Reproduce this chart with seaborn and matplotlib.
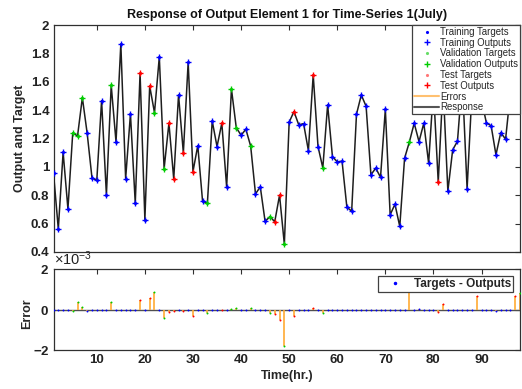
import numpy as np
import pandas as pd
import matplotlib
matplotlib.use("Agg")
import matplotlib.pyplot as plt
from matplotlib.lines import Line2D
from matplotlib.ticker import ScalarFormatter
import seaborn as sns

# ---- data -----------------------------------------------------------------
time_hr = list(range(1, 99))

outputs = [
    0.956, 0.563, 1.103, 0.704, 1.239, 1.218, 1.488, 1.237, 0.923, 0.904,
    1.467, 0.803, 1.575, 1.176, 1.866, 0.918, 1.373, 0.744, 1.660, 0.629,
    1.570, 1.382, 1.775, 0.988, 1.308, 0.915, 1.507, 1.099, 1.737, 0.967,
    1.150, 0.756, 0.744, 1.324, 1.143, 1.308, 0.859, 1.549, 1.277, 1.223,
    1.265, 1.146, 0.810, 0.859, 0.615, 0.650, 0.613, 0.800, 0.455, 1.315,
    1.390, 1.296, 1.305, 1.115, 1.648, 1.143, 0.993, 1.437, 1.073, 1.035,
    1.040, 0.716, 0.688, 1.371, 1.507, 1.427, 0.944, 0.991, 0.927, 1.406,
    0.662, 0.737, 0.580, 1.061, 1.176, 1.308, 1.178, 1.308, 1.026, 1.550,
    0.892, 1.580, 0.829, 1.120, 1.181, 1.620, 0.845, 1.520, 1.680, 1.470,
    1.312, 1.289, 1.085, 1.242, 1.195, 1.520, 1.660, 1.585,
]

# targets - outputs, in units of 1e-3
errors_e3 = [
    0.00, 0.00, 0.00, 0.00, -0.07, 0.38, 0.13, -0.05, 0.00, 0.00,
    0.00, 0.00, 0.40, 0.00, 0.00, 0.00, 0.00, 0.00, 0.48, 0.00,
    0.60, 0.89, 0.00, -0.40, -0.10, -0.07, 0.00, -0.08, 0.00, -0.30,
    0.00, 0.00, -0.15, 0.00, 0.00, -0.02, 0.00, 0.05, 0.08, 0.00,
    0.00, 0.08, 0.00, 0.00, 0.00, -0.17, -0.23, -0.50, -1.80, 0.00,
    -0.30, 0.00, 0.00, 0.00, 0.08, 0.00, -0.15, 0.00, 0.00, 0.00,
    0.00, 0.00, 0.00, 0.00, 0.00, 0.00, 0.00, 0.00, 0.00, 0.00,
    0.00, 0.00, 0.00, 0.00, 0.95, 0.00, 0.05, 0.00, 0.00, 0.00,
    -0.13, 0.26, 0.00, 0.00, 0.00, 0.00, 0.00, 0.00, 0.67, 0.00,
    0.00, 0.00, -0.05, 0.00, 0.00, 0.00, 0.70, 0.82,
]

validation_steps = [5, 6, 7, 13, 22, 24, 33, 38, 39, 42, 46, 49, 57, 75, 98]
test_steps = [19, 21, 25, 26, 28, 30, 36, 47, 48, 51, 55, 81, 82, 89, 97]

top_yticks = [0.4, 0.6, 0.8, 1.0, 1.2, 1.4, 1.6, 1.8, 2.0]
top_yticklabels = ["0.4", "0.6", "0.8", "1", "1.2", "1.4", "1.6", "1.8", "2"]
x_ticks = [10, 20, 30, 40, 50, 60, 70, 80, 90]
err_yticks = [-2e-3, 0.0, 2e-3]

title_text = "Response of Output Element 1 for Time-Series 1(July)"

# ---- frame ----------------------------------------------------------------
df = pd.DataFrame({"time": time_hr, "output": outputs})
df["error"] = np.array(errors_e3) * 1e-3
df["target"] = df["output"] + df["error"]
df["set"] = "Training"
df.loc[df["time"].isin(validation_steps), "set"] = "Validation"
df.loc[df["time"].isin(test_steps), "set"] = "Test"

set_colors = {"Training": "#0000FF", "Validation": "#00CC00", "Test": "#FF0000"}
err_color = "#FFAA33"
resp_color = "#1E1E1E"
frame_color = "#303030"

sns.set_theme(style="white")
plt.rcParams["font.family"] = ["Liberation Sans", "DejaVu Sans"]
plt.rcParams["font.weight"] = "bold"
plt.rcParams["axes.labelweight"] = "bold"
plt.rcParams["axes.titleweight"] = "bold"
plt.rcParams["mathtext.default"] = "regular"

W, H = 522, 389
fig = plt.figure(figsize=(W / 100, H / 100), dpi=100)
ax = fig.add_axes([53.5 / W, 1 - 252 / H, 466.5 / W, 227 / H])
ax_err = fig.add_axes([53.5 / W, 1 - 350 / H, 466.5 / W, 80.7 / H])

# ---- response panel -------------------------------------------------------
ax.vlines(df["time"], df["output"], df["target"], color=err_color, lw=1, zorder=2)
sns.lineplot(data=df, x="time", y="output", color=resp_color, lw=1.1,
             ax=ax, legend=False, zorder=3)
for name in ["Training", "Validation", "Test"]:
    sub = df[df["set"] == name]
    c = set_colors[name]
    ax.plot(sub["time"], sub["target"], ".", color=c, ms=2.5, zorder=4)
    ax.plot(sub["time"], sub["output"], "+", color=c, ms=5, mew=1.0, zorder=5)

ax.set_xlim(1, 98)
ax.set_ylim(0.4, 2)
ax.set_xticks(x_ticks)
ax.set_xticklabels([])
ax.set_yticks(top_yticks)
ax.set_yticklabels(top_yticklabels)
ax.set_xlabel("")
ax.set_ylabel("Output and Target", fontsize=9)
ax.yaxis.set_label_coords(-0.058, 0.5)
ax.set_title(title_text, fontsize=9, pad=5, color="#111111")

handles = [
    Line2D([], [], ls="", marker=".", ms=2.5, color=set_colors["Training"]),
    Line2D([], [], ls="", marker="+", ms=5, mew=1, color=set_colors["Training"]),
    Line2D([], [], ls="", marker=".", ms=2.5, color="#66DD66"),
    Line2D([], [], ls="", marker="+", ms=5, mew=1, color=set_colors["Validation"]),
    Line2D([], [], ls="", marker=".", ms=2.5, color="#FF7777"),
    Line2D([], [], ls="", marker="+", ms=5, mew=1, color=set_colors["Test"]),
    Line2D([], [], color="#FFC070", lw=1.5),
    Line2D([], [], color="#555555", lw=1.5),
]
labels = ["Training Targets", "Training Outputs", "Validation Targets",
          "Validation Outputs", "Test Targets", "Test Outputs", "Errors", "Response"]
leg = ax.legend(handles, labels, loc="upper right", borderaxespad=0,
                prop={"size": 6.9, "weight": "normal"}, frameon=True,
                fancybox=False, framealpha=1, edgecolor="#404040",
                borderpad=0.2, labelspacing=0.08, handlelength=2.6,
                handletextpad=0.1)
leg.get_frame().set_linewidth(0.9)
leg.set_zorder(10)

# ---- error panel ----------------------------------------------------------
ax_err.axhline(0, color="#505050", lw=1.0, zorder=1)
ax_err.vlines(df["time"], 0, df["error"], color=err_color, lw=1.2, zorder=2)
for name in ["Training", "Validation", "Test"]:
    sub = df[df["set"] == name]
    sns.scatterplot(x=sub["time"], y=sub["error"], color=set_colors[name],
                    marker=".", s=8, linewidth=0, ax=ax_err, zorder=3,
                    legend=False)

ax_err.set_xlim(1, 98)
ax_err.set_ylim(-2e-3, 2e-3)
ax_err.set_xticks(x_ticks)
ax_err.set_yticks(err_yticks)
fmt = ScalarFormatter(useMathText=True)
fmt.set_powerlimits((0, 0))
ax_err.yaxis.set_major_formatter(fmt)
ax_err.set_xlabel("Time(hr.)", fontsize=9, labelpad=3)
ax_err.set_ylabel("Error", fontsize=9)
ax_err.yaxis.set_label_coords(-0.043, 0.45)

err_leg = ax_err.legend(
    [Line2D([], [], ls="", marker=".", ms=3, color=set_colors["Training"])],
    ["Targets - Outputs"], loc="upper right", borderaxespad=0.6,
    prop={"size": 8.5, "weight": "bold"}, frameon=True, fancybox=False,
    framealpha=1, edgecolor="#404040", borderpad=0.15, handlelength=2.6,
    handletextpad=0.3)
err_leg.get_frame().set_linewidth(0.9)
err_leg.set_zorder(10)

for a in (ax, ax_err):
    a.tick_params(direction="in", top=True, right=True, length=3.5, width=0.8,
                  color=frame_color, labelcolor="#222222", labelsize=9.5, pad=3)
    for s in a.spines.values():
        s.set_color(frame_color)
        s.set_linewidth(0.9)
    for lab in a.get_xticklabels() + a.get_yticklabels():
        lab.set_fontweight("bold")
ax_err.yaxis.get_offset_text().set_fontsize(10.5)
ax_err.yaxis.get_offset_text().set_fontweight("normal")

fig.savefig("out.png", dpi=100, facecolor="white")
